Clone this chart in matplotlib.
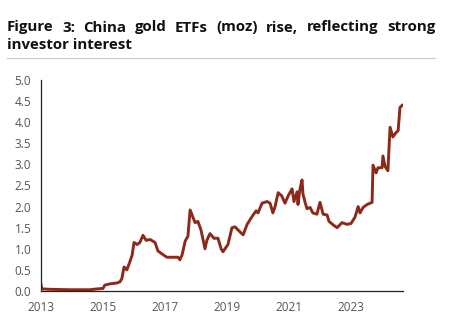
import matplotlib
matplotlib.use('Agg')
import matplotlib.pyplot as plt
from matplotlib.lines import Line2D

# China gold ETF holdings (moz), x in decimal years
years = [2013.00, 2013.03, 2013.29, 2013.94, 2014.58, 2014.81, 2015.00, 2015.06, 2015.23, 2015.45,
         2015.55, 2015.61, 2015.68, 2015.77, 2015.87, 2015.94, 2016.00, 2016.10, 2016.19, 2016.29,
         2016.39, 2016.52, 2016.68, 2016.77, 2016.94, 2017.06, 2017.42, 2017.48, 2017.55, 2017.65,
         2017.74, 2017.81, 2017.90, 2017.97, 2018.06, 2018.16, 2018.29, 2018.35, 2018.45, 2018.58,
         2018.71, 2018.81, 2018.87, 2019.03, 2019.16, 2019.26, 2019.42, 2019.52, 2019.65, 2019.84,
         2019.94, 2020.00, 2020.13, 2020.29, 2020.39, 2020.48, 2020.55, 2020.65, 2020.77, 2020.87,
         2020.97, 2021.10, 2021.16, 2021.26, 2021.29, 2021.35, 2021.42, 2021.45, 2021.52, 2021.58,
         2021.68, 2021.77, 2021.90, 2022.00, 2022.10, 2022.23, 2022.29, 2022.42, 2022.55, 2022.71,
         2022.87, 2023.00, 2023.13, 2023.23, 2023.29, 2023.39, 2023.52, 2023.68, 2023.71, 2023.81,
         2023.87, 2024.00, 2024.03, 2024.10, 2024.19, 2024.26, 2024.35, 2024.45, 2024.52, 2024.58,
         2024.65]
holdings = [0.15, 0.05, 0.04, 0.03, 0.03, 0.05, 0.06, 0.14, 0.17, 0.19,
            0.22, 0.30, 0.57, 0.50, 0.70, 0.85, 1.15, 1.10, 1.15, 1.32,
            1.20, 1.22, 1.15, 0.95, 0.86, 0.80, 0.80, 0.74, 0.85, 1.18,
            1.30, 1.92, 1.75, 1.62, 1.65, 1.45, 1.00, 1.20, 1.36, 1.25,
            1.25, 1.00, 0.93, 1.10, 1.50, 1.52, 1.40, 1.33, 1.58, 1.80,
            1.90, 1.85, 2.08, 2.12, 2.08, 1.85, 2.00, 2.33, 2.25, 2.08,
            2.25, 2.42, 2.12, 2.35, 2.05, 2.40, 2.63, 2.30, 2.10, 1.95,
            1.98, 1.85, 1.82, 2.10, 1.82, 1.80, 1.65, 1.57, 1.50, 1.62,
            1.58, 1.60, 1.75, 2.00, 1.85, 1.98, 2.05, 2.10, 2.98, 2.80,
            2.92, 2.92, 3.20, 2.95, 2.85, 3.88, 3.65, 3.75, 3.80, 4.35,
            4.40]

x_ticks = [2013, 2015, 2017, 2019, 2021, 2023]
y_ticks = [0.0, 0.5, 1.0, 1.5, 2.0, 2.5, 3.0, 3.5, 4.0, 4.5, 5.0]

title_line1 = 'Figure 3: China gold ETFs (moz) rise, reflecting strong'
title_line2 = 'investor interest'

W, H = 449, 330
fig = plt.figure(figsize=(W / 100, H / 100), dpi=100)
title_kw = dict(fontsize=10.8, fontweight='bold', family='Open Sans', color='#111111',
                va='baseline', ha='left')

# justified first title line: measure words, spread them evenly from x=7 to x=435
words = [fig.text(0, 1 - 31.5 / H, w, **title_kw) for w in title_line1.split()]
renderer = fig.canvas.get_renderer()
widths = [t.get_window_extent(renderer).width for t in words]
gap = (428 - sum(widths)) / (len(words) - 1)
px = 7
for t, w in zip(words, widths):
    t.set_x(px / W)
    px += w + gap
fig.text(7 / W, 1 - 49 / H, title_line2, **title_kw)
fig.add_artist(Line2D([7 / W, 435 / W], [1 - 58 / H, 1 - 58 / H], color='#c8c8c8', lw=0.8,
                      transform=fig.transFigure))

ax = fig.add_axes([41 / W, 39 / H, 362 / W, 211 / H])
ax.plot(years, holdings, color='#8b2a1a', lw=2.1, solid_joinstyle='round')

ax.set_xlim(2013, 2013 + 362 / 31)
ax.set_ylim(0, 5)
ax.set_xticks(x_ticks)
ax.set_xticklabels([str(y) for y in x_ticks])
ax.set_yticks(y_ticks)
ax.set_yticklabels([f'{v:.1f}' for v in y_ticks])
ax.tick_params(length=0, labelsize=8.5, colors='#555555')
ax.tick_params(axis='y', pad=7)
ax.tick_params(axis='x', pad=7)
for lab in ax.get_xticklabels() + ax.get_yticklabels():
    lab.set_family('Open Sans')

for s in ['top', 'right']:
    ax.spines[s].set_visible(False)
ax.spines['left'].set_color('#222222')
ax.spines['bottom'].set_color('#222222')
ax.spines['left'].set_linewidth(0.9)
ax.spines['bottom'].set_linewidth(0.9)

fig.savefig('out.png', dpi=100)
